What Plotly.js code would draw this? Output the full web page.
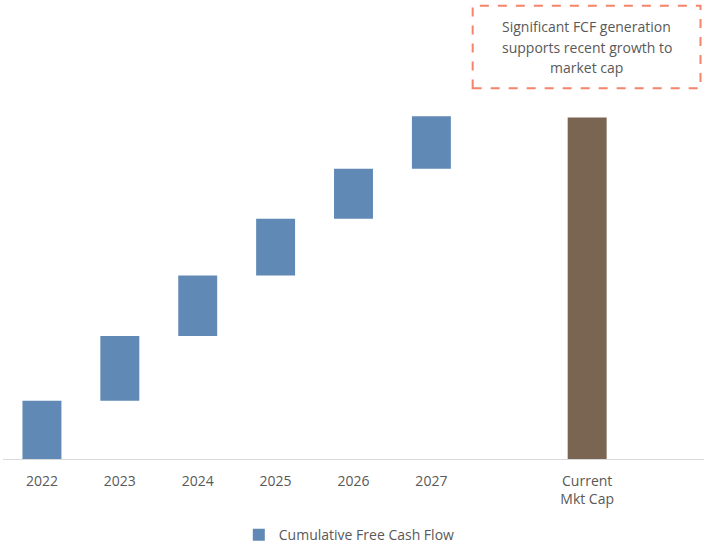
<!DOCTYPE html>
<html>
<head>
<meta charset="utf-8">
<script src="https://cdn.plot.ly/plotly-3.0.1.min.js"></script>
<style>html,body{margin:0;padding:0;background:#fff;}#chart{width:705px;height:543px;}</style>
</head>
<body>
<div id="chart"></div>
<script>
// Category positions (index 6 and 8 are empty slots)
const yearPositions = [0, 1, 2, 3, 4, 5];
const yearLabels = ["2022", "2023", "2024", "2025", "2026", "2027"];
const mktCapPosition = [7];
const mktCapLabel = ["Current<br>Mkt Cap"];

// Cumulative free cash flow (indexed units): base = cumulative prior years, annual = year FCF
const fcfBase = [0, 17.0, 35.9, 53.5, 70.1, 84.7];
const fcfAnnual = [17.0, 18.9, 17.6, 16.6, 14.6, 15.3];
const currentMktCap = [99.6];

// Call-out text lines
const calloutLines = ["Significant FCF generation", "supports recent growth to", "market cap"];

const tickVals = yearPositions.concat(mktCapPosition);
const tickText = yearLabels.concat(mktCapLabel);

const fcfTrace = {
  type: "bar",
  name: "Cumulative Free Cash Flow",
  x: yearPositions,
  y: fcfAnnual,
  base: fcfBase,
  width: 0.5,
  marker: {color: "#6089B5"},
  hoverinfo: "skip"
};
const mktTrace = {
  type: "bar",
  name: "Current Mkt Cap",
  x: mktCapPosition,
  y: currentMktCap,
  width: 0.5,
  marker: {color: "#7A6452"},
  showlegend: false,
  hoverinfo: "skip"
};

const plotBottom = 459.5;
const lineY = [27, 47.5, 68];
const calloutAnnotations = calloutLines.map((t, i) => ({
  xref: "paper", yref: "paper",
  x: 0.8325, y: (plotBottom - lineY[i]) / plotBottom,
  xanchor: "center", yanchor: "middle",
  text: t,
  showarrow: false,
  align: "center",
  font: {size: 14, color: "#595959"}
}));

const layout = {
  width: 705,
  height: 543,
  margin: {l: 3, r: 1, t: 0, b: 83.5, autoexpand: false},
  paper_bgcolor: "#ffffff",
  plot_bgcolor: "#ffffff",
  font: {family: "Open Sans, sans-serif", color: "#595959", size: 14},
  showlegend: true,
  barmode: "overlay",
  xaxis: {
    range: [-0.5, 8.5],
    tickvals: tickVals,
    ticktext: tickText,
    showgrid: false,
    zeroline: false,
    showline: true,
    linecolor: "#D9D9D9",
    linewidth: 1,
    ticks: "",
    ticklabelstandoff: 9,
    automargin: false,
    tickfont: {size: 14, color: "#595959"},
    fixedrange: true
  },
  yaxis: {
    range: [0, 133.9],
    visible: false,
    showgrid: false,
    zeroline: false,
    fixedrange: true
  },
  legend: {
    orientation: "h",
    x: 0.494,
    xanchor: "center",
    y: -0.166,
    yanchor: "middle",
    font: {size: 14, color: "#595959"}
  },
  shapes: [{
    type: "rect",
    xref: "paper", yref: "paper",
    x0: 0.670, x1: 0.995, y0: 0.8078, y1: 0.9876,
    line: {color: "#F4846A", width: 2, dash: "dash"},
    fillcolor: "rgba(0,0,0,0)"
  }],
  annotations: calloutAnnotations
};

Plotly.newPlot("chart", [fcfTrace, mktTrace], layout, {displayModeBar: false, staticPlot: true});
</script>
</body>
</html>
